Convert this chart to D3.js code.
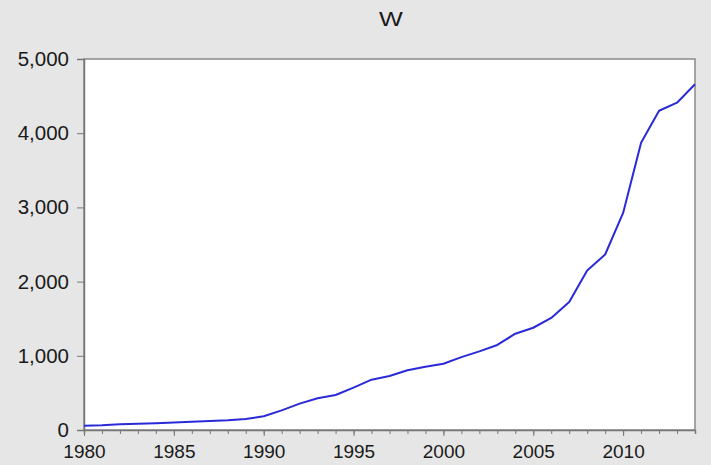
<!DOCTYPE html>
<html>
<head>
<meta charset="utf-8">
<script src="https://cdn.jsdelivr.net/npm/d3@7"></script>
<style>
  html, body { margin: 0; padding: 0; background: #e6e6e6; }
  svg { display: block; }
  text { font-family: "Liberation Sans", Arial, sans-serif; fill: #1a1a1a; }
</style>
</head>
<body>
<svg id="chart" width="711" height="465"></svg>
<script>
// Series W, annual observations
const years = [1980, 1981, 1982, 1983, 1984, 1985, 1986, 1987, 1988, 1989,
               1990, 1991, 1992, 1993, 1994, 1995, 1996, 1997, 1998, 1999,
               2000, 2001, 2002, 2003, 2004, 2005, 2006, 2007, 2008, 2009,
               2010, 2011, 2012, 2013, 2014];
const wValues = [58, 64, 76, 84, 92, 102, 112, 122, 132, 148,
                 185, 265, 355, 427, 472, 572, 678, 728, 805, 853,
                 893, 982, 1060, 1146, 1298, 1378, 1510, 1725, 2150, 2365,
                 2925, 3872, 4303, 4411, 4660];
const yTicks = [0, 1000, 2000, 3000, 4000, 5000];
const xLabelYears = [1980, 1985, 1990, 1995, 2000, 2005, 2010];
const chartTitle = "W";

const svg = d3.select("#chart");
const margin = { left: 84, right: 16, top: 59, bottom: 35 };
const W = 711, H = 465;
const FONT = "Liberation Sans, Arial, sans-serif";

const x = d3.scaleLinear().domain([1980, 2014]).range([margin.left, W - margin.right]);
const y = d3.scaleLinear().domain([0, 5000]).range([H - margin.bottom, margin.top]);

// background
svg.append("rect").attr("width", W).attr("height", H).attr("fill", "#e6e6e6");

// plot frame
svg.append("rect")
  .attr("x", x(1980)).attr("y", y(5000))
  .attr("width", x(2014) - x(1980)).attr("height", y(0) - y(5000))
  .attr("fill", "#ffffff").attr("stroke", "#8a8a8a").attr("stroke-width", 1.5);

// title
svg.append("text")
  .attr("x", 391).attr("y", 26)
  .attr("text-anchor", "middle").attr("font-size", 21)
  .attr("font-family", FONT)
  .attr("transform", "translate(391,0) scale(1.2,1) translate(-391,0)")
  .text(chartTitle);

// y axis
const yAxis = d3.axisLeft(y).tickValues(yTicks).tickSize(7).tickPadding(8)
  .tickFormat(d3.format(","));
const gy = svg.append("g").attr("transform", `translate(${x(1980)},0)`).call(yAxis);
gy.select(".domain").attr("stroke", "#777").attr("stroke-width", 1.5);
gy.selectAll(".tick line").attr("stroke", "#777");
gy.selectAll(".tick text").attr("font-size", 20.5).attr("fill", "#1a1a1a")
  .attr("font-family", FONT);

// x axis: minor ticks every year, labelled ticks every five years
const xMinor = d3.axisBottom(x).tickValues(years).tickSize(4).tickFormat("");
const gxm = svg.append("g").attr("transform", `translate(0,${y(0)})`).call(xMinor);
gxm.select(".domain").attr("stroke", "#777").attr("stroke-width", 1.5);
gxm.selectAll(".tick line").attr("stroke", "#777");

const xMajor = d3.axisBottom(x).tickValues(xLabelYears).tickSize(6).tickPadding(9)
  .tickFormat(d3.format("d"));
const gx = svg.append("g").attr("transform", `translate(0,${y(0)})`).call(xMajor);
gx.select(".domain").remove();
gx.selectAll(".tick line").attr("stroke", "#777");
gx.selectAll(".tick text").attr("font-size", 19).attr("fill", "#1a1a1a")
  .attr("font-family", FONT);

// line
const line = d3.line().x((d, i) => x(years[i])).y(d => y(d));
svg.append("path")
  .datum(wValues)
  .attr("fill", "none")
  .attr("stroke", "#2a2ad8")
  .attr("stroke-width", 2)
  .attr("stroke-linejoin", "round")
  .attr("d", line);
</script>
</body>
</html>
